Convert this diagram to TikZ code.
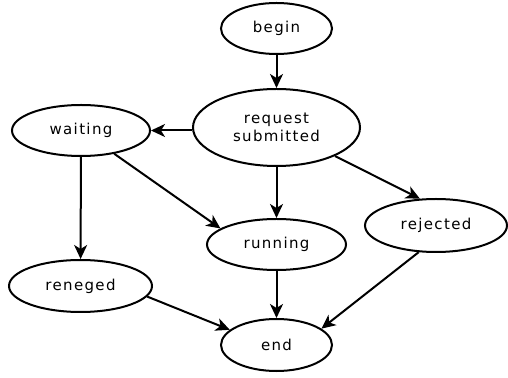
\documentclass[tikz,border=0pt]{standalone}
\usepackage{fontspec}
\newfontfamily\statefont{DejaVu Sans}[LetterSpace=9]
\usepackage{tikz}
\usetikzlibrary{arrows.meta,shapes.geometric}

\begin{document}
\begin{tikzpicture}[x=1pt,y=1pt,>={Stealth[length=14pt,width=13pt,inset=4pt]},
  state/.style={ellipse,draw,line width=2pt,inner sep=0pt,align=center,
    font=\statefont\fontsize{15}{17.5}\selectfont},
  flow/.style={->,line width=2pt}]
\useasboundingbox (0,0) rectangle (508,377);
\node[state,minimum width=111pt,minimum height=51pt] (begin) at (276.5,348.5) {begin};
\node[state,minimum width=167pt,minimum height=77pt] (req) at (276.5,249.5) {request\\submitted};
\node[state,minimum width=138pt,minimum height=51pt] (waiting) at (81,246.5) {waiting};
\node[state,minimum width=139pt,minimum height=51pt] (running) at (276.5,132.5) {running};
\node[state,minimum width=142pt,minimum height=53pt] (rejected) at (436,151.5) {rejected};
\node[state,minimum width=143pt,minimum height=52pt] (reneged) at (80.5,91) {reneged};
\node[state,minimum width=111pt,minimum height=52pt] (end) at (276.5,32) {end};
\draw[flow] (begin) -- (req);
\draw[flow] (req.west |- waiting) -- (waiting);
\draw[flow] (req) -- (running);
\draw[flow] (req.-26) -- (rejected.121);
\draw[flow] (waiting) -- (reneged);
\draw[flow] (waiting.-35) -- (running.164);
\draw[flow] (running) -- (end);
\draw[flow] (reneged.-9) -- (end.162);
\draw[flow] (rejected.-123) -- (end.20);
\end{tikzpicture}
\end{document}
